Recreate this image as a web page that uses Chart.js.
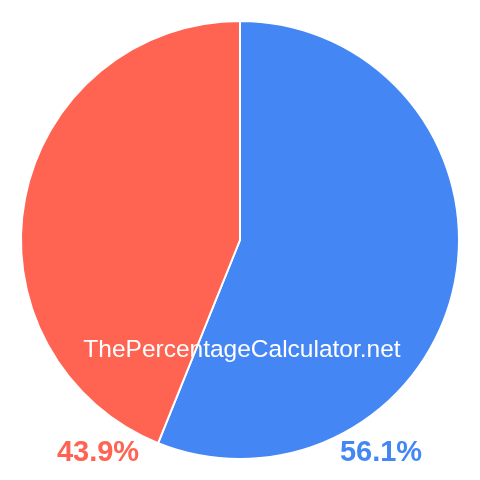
<!DOCTYPE html>
<html>
<head>
<meta charset="utf-8">
<script src="https://cdn.jsdelivr.net/npm/chart.js@4"></script>
<style>
  html, body { margin: 0; padding: 0; background: #fff; }
  #wrap { width: 480px; height: 480px; }
</style>
</head>
<body>
<div id="wrap"><canvas id="pie" width="480" height="480"></canvas></div>
<script>
const labels = ["56.1%", "43.9%"];
const values = [56.1, 43.9];
const colors = ["#4487F4", "#FF6352"];

// watermark + the two percentage labels under the pie
const textPlugin = {
  id: "pieText",
  afterDraw(chart) {
    const ctx = chart.ctx;
    const area = chart.chartArea;
    const cx = (area.left + area.right) / 2;
    ctx.save();
    ctx.textAlign = "center";
    ctx.textBaseline = "alphabetic";
    ctx.fillStyle = "#fff";
    ctx.font = "24.5px 'Liberation Sans', Arial, sans-serif";
    ctx.fillText("ThePercentageCalculator.net", cx + 2, 357);

    ctx.font = "bold 29px 'Liberation Sans', Arial, sans-serif";
    ctx.fillStyle = colors[1];
    ctx.fillText(labels[1], 98, 461);
    ctx.fillStyle = colors[0];
    ctx.fillText(labels[0], 381, 461);
    ctx.restore();
  }
};

new Chart(document.getElementById("pie"), {
  type: "pie",
  data: {
    labels: labels,
    datasets: [{
      data: values,
      backgroundColor: colors,
      borderColor: "#fff",
      borderWidth: 2
    }]
  },
  options: {
    responsive: false,
    animation: false,
    layout: { padding: 20 },
    plugins: {
      legend: { display: false },
      tooltip: { enabled: false }
    }
  },
  plugins: [textPlugin]
});
</script>
</body>
</html>
